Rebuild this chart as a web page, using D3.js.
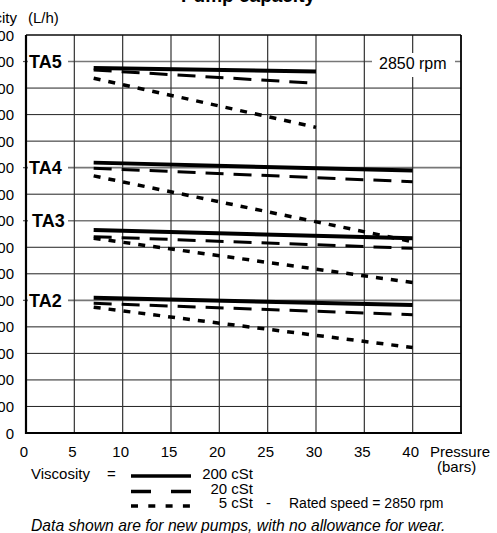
<!DOCTYPE html>
<html>
<head>
<meta charset="utf-8">
<script src="https://cdn.jsdelivr.net/npm/d3@7"></script>
<style>
  body { margin: 0; background: #fff; }
  svg { display: block; font-family: "Liberation Sans", Arial, sans-serif; }
</style>
</head>
<body>
<div id="chart"></div>
<script>
// Pressure (bars) where each curve starts / ends
const pressureTA5 = [7, 30];
const pressure = [7, 40];

// Capacity (L/h), start / end value of each curve
const ta5_200 = [1376, 1362], ta5_20 = [1368, 1318], ta5_5 = [1337, 1152];
const ta4_200 = [1019, 989],  ta4_20 = [998, 947],   ta4_5 = [969, 721];
const ta3_200 = [765, 734],   ta3_20 = [740, 696],   ta3_5 = [734, 567];
const ta2_200 = [510, 482],   ta2_20 = [489, 446],   ta2_5 = [474, 322];

const pumpNames = ["TA5", "TA4", "TA3", "TA2"];
const pumpLevels = [1400, 1000, 800, 500];

const xTicks = [0, 5, 10, 15, 20, 25, 30, 35, 40];
const yTicks = d3.range(0, 1600, 100);

const W = 497, H = 533;
const svg = d3.select("#chart").append("svg")
    .attr("width", W)
    .attr("height", H);

const x = d3.scaleLinear().domain([0, 45]).range([26, 461]);
const y = d3.scaleLinear().domain([0, 1500]).range([433, 35]);

// grid
svg.append("g")
  .selectAll("line")
  .data(yTicks)
  .join("line")
    .attr("x1", x(0)).attr("x2", x(45))
    .attr("y1", d => y(d)).attr("y2", d => y(d))
    .attr("stroke", d => pumpLevels.includes(d) ? "#777" : "#222")
    .attr("stroke-width", d => pumpLevels.includes(d) ? 1.6 : 1);

svg.append("g")
  .selectAll("line")
  .data(d3.range(5, 45, 5))
  .join("line")
    .attr("x1", d => x(d)).attr("x2", d => x(d))
    .attr("y1", y(0)).attr("y2", y(1500))
    .attr("stroke", "#333")
    .attr("stroke-width", 1.2);

// frame
svg.append("line").attr("x1", x(0)).attr("x2", x(45)).attr("y1", y(1500)).attr("y2", y(1500))
  .attr("stroke", "#000").attr("stroke-width", 1.2);
svg.append("line").attr("x1", x(45)).attr("x2", x(45)).attr("y1", y(0)).attr("y2", y(1500))
  .attr("stroke", "#000").attr("stroke-width", 1.8);

// small stubs left of axis at pump levels
svg.append("g")
  .selectAll("line")
  .data(pumpLevels)
  .join("line")
    .attr("x1", x(0) - 3).attr("x2", x(0))
    .attr("y1", d => y(d)).attr("y2", d => y(d))
    .attr("stroke", "#555").attr("stroke-width", 1.2);

// y axis tick labels (chart is cropped on the left)
svg.append("g")
  .selectAll("text")
  .data(yTicks)
  .join("text")
    .attr("x", 14)
    .attr("y", d => y(d) + 5.5)
    .attr("text-anchor", "end")
    .style("font-size", "15px")
    .text(d => d);

// x axis tick labels
svg.append("g")
  .selectAll("text")
  .data(xTicks)
  .join("text")
    .attr("x", d => x(d) - 2)
    .attr("y", 457)
    .attr("text-anchor", "middle")
    .style("font-size", "15px")
    .text(d => d);

// 2850 rpm box
svg.append("rect").attr("x", 372).attr("y", 53).attr("width", 83).attr("height", 24).attr("fill", "#fff");
svg.append("text").attr("x", 379).attr("y", 69)
  .style("font-size", "16px").text("2850 rpm");

// pump labels with white box over the gridline
pumpNames.forEach((name, i) => {
  svg.append("rect")
    .attr("x", 28).attr("y", y(pumpLevels[i]) - 10)
    .attr("width", 40).attr("height", 20)
    .attr("fill", "#fff");
  svg.append("text")
    .attr("x", name === "TA3" ? 32 : 29)
    .attr("y", y(pumpLevels[i]) + 6.5)
    .style("font-size", "18px")
    .style("font-weight", "bold")
    .text(name);
});

// axes lines (drawn on top)
svg.append("line").attr("x1", x(0)).attr("x2", x(0)).attr("y1", y(0) + 1).attr("y2", y(1500))
  .attr("stroke", "#000").attr("stroke-width", 2.2);
svg.append("line").attr("x1", x(0) - 1).attr("x2", x(45) + 1).attr("y1", y(0)).attr("y2", y(0))
  .attr("stroke", "#000").attr("stroke-width", 2.2);

// curves
const styles = {
  s200: {w: 4, dash: null},
  s20: {w: 3, dash: "18,10"},
  s5: {w: 3.5, dash: "7,8"}
};

const curves = [
  {p: pressureTA5, v: ta5_200, s: "s200"}, {p: pressureTA5, v: ta5_20, s: "s20"}, {p: pressureTA5, v: ta5_5, s: "s5"},
  {p: pressure, v: ta4_200, s: "s200"}, {p: pressure, v: ta4_20, s: "s20"}, {p: pressure, v: ta4_5, s: "s5"},
  {p: pressure, v: ta3_200, s: "s200"}, {p: pressure, v: ta3_20, s: "s20"}, {p: pressure, v: ta3_5, s: "s5"},
  {p: pressure, v: ta2_200, s: "s200"}, {p: pressure, v: ta2_20, s: "s20"}, {p: pressure, v: ta2_5, s: "s5"}
];

const line = d3.line().x(d => x(d[0])).y(d => y(d[1]));

svg.append("g")
  .selectAll("path")
  .data(curves)
  .join("path")
    .attr("d", c => line(c.p.map((p, i) => [p, c.v[i]])))
    .attr("fill", "none")
    .attr("stroke", "#000")
    .attr("stroke-width", c => styles[c.s].w)
    .attr("stroke-dasharray", c => styles[c.s].dash);

// title (cropped at top)
svg.append("text").attr("x", 248).attr("y", 2)
  .attr("text-anchor", "middle")
  .style("font-size", "19px").style("font-weight", "bold")
  .text("Pump capacity");

// y label
svg.append("text").attr("x", 17).attr("y", 23).attr("text-anchor", "end")
  .style("font-size", "15px").text("Capacity");
svg.append("text").attr("x", 28).attr("y", 23)
  .style("font-size", "15px").text("(L/h)");

// x label
svg.append("text").attr("x", 430).attr("y", 457).style("font-size", "15px").text("Pressure");
svg.append("text").attr("x", 437).attr("y", 472).style("font-size", "15px").text("(bars)");

// legend
svg.append("text").attr("x", 31).attr("y", 479).style("font-size", "15px").text("Viscosity");
svg.append("text").attr("x", 107).attr("y", 479).style("font-size", "15px").text("=");

const legendRows = [
  {label: "200 cSt", y: 476, dash: null, w: 3.5},
  {label: "20 cSt", y: 491.5, dash: "20,20", w: 3.5},
  {label: "5 cSt", y: 506, dash: "7,10.3", w: 3.5}
];
legendRows.forEach((r, i) => {
  svg.append("line")
    .attr("x1", 131).attr("x2", 191)
    .attr("y1", r.y).attr("y2", r.y)
    .attr("stroke", "#000").attr("stroke-width", r.w)
    .attr("stroke-dasharray", r.dash);
  svg.append("text")
    .attr("x", 253).attr("y", 479 + i * 14.5)
    .attr("text-anchor", "end")
    .style("font-size", "15px")
    .text(r.label);
});
svg.append("text").attr("x", 266).attr("y", 508).style("font-size", "15px").text("-");
svg.append("text").attr("x", 289).attr("y", 508).style("font-size", "14px").text("Rated speed = 2850 rpm");

// footnote
svg.append("text").attr("x", 31).attr("y", 531)
  .style("font-size", "15.7px").style("font-style", "italic")
  .text("Data shown are for new pumps, with no allowance for wear.");
</script>
</body>
</html>
